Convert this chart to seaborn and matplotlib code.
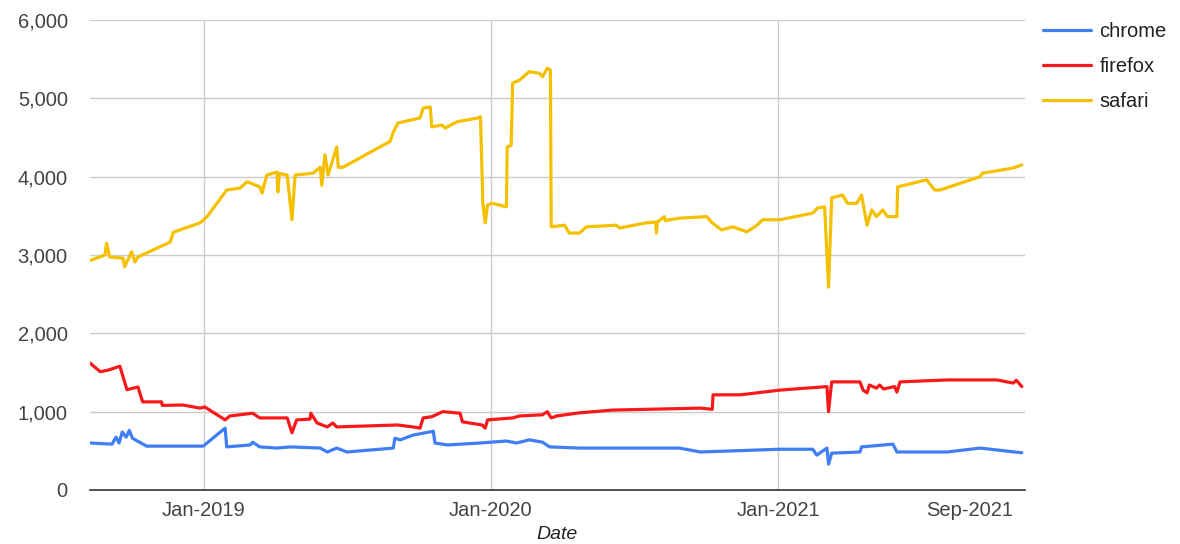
import pandas as pd
import matplotlib
matplotlib.use('Agg')
import matplotlib.pyplot as plt
import matplotlib.dates as mdates
from matplotlib.ticker import FuncFormatter
import seaborn as sns

# values
chrome_dates = ['2018-08-09', '2018-09-06', '2018-09-11', '2018-09-15', '2018-09-19', '2018-09-24',
                '2018-09-28', '2018-10-02', '2018-10-20', '2018-12-31', '2019-01-28', '2019-01-30',
                '2019-03-01', '2019-03-04', '2019-03-13', '2019-04-04', '2019-04-21', '2019-05-29',
                '2019-06-07', '2019-06-19', '2019-07-02', '2019-08-30', '2019-09-01', '2019-09-08',
                '2019-09-24', '2019-10-20', '2019-10-22', '2019-11-07', '2019-12-19', '2020-01-21',
                '2020-02-03', '2020-02-19', '2020-03-07', '2020-03-16', '2020-04-23', '2020-08-28',
                '2020-09-24', '2021-01-03', '2021-02-14', '2021-02-19', '2021-03-04', '2021-03-06',
                '2021-03-10', '2021-04-15', '2021-04-17', '2021-05-27', '2021-06-01', '2021-08-04',
                '2021-09-15', '2021-11-07']
chrome_vals = [600, 585, 675, 600, 740, 675,
               760, 660, 560, 560, 790, 550,
               575, 610, 550, 535, 550, 535,
               485, 535, 485, 535, 660, 640,
               700, 750, 600, 575, 600, 625,
               600, 640, 610, 550, 535, 535,
               485, 520, 520, 445, 535, 330,
               470, 485, 550, 585, 485, 485,
               535, 475]

firefox_dates = ['2018-08-09', '2018-08-22', '2018-09-01', '2018-09-16', '2018-09-25', '2018-10-09',
                 '2018-10-15', '2018-11-08', '2018-11-09', '2018-12-05', '2018-12-27', '2019-01-02',
                 '2019-01-28', '2019-02-03', '2019-03-04', '2019-03-13', '2019-04-17', '2019-04-23',
                 '2019-04-29', '2019-05-16', '2019-05-17', '2019-05-25', '2019-06-07', '2019-06-14',
                 '2019-06-19', '2019-09-04', '2019-09-24', '2019-10-03', '2019-10-07', '2019-10-18',
                 '2019-11-01', '2019-11-23', '2019-11-26', '2019-12-21', '2019-12-25', '2019-12-28',
                 '2020-01-29', '2020-02-07', '2020-03-07', '2020-03-13', '2020-03-18', '2020-03-25',
                 '2020-04-23', '2020-06-04', '2020-09-24', '2020-10-09', '2020-10-10', '2020-11-14',
                 '2021-01-03', '2021-03-04', '2021-03-06', '2021-03-10', '2021-04-15', '2021-04-19',
                 '2021-04-24', '2021-04-27', '2021-05-06', '2021-05-10', '2021-05-15', '2021-05-29',
                 '2021-06-01', '2021-06-05', '2021-08-04', '2021-10-06', '2021-10-27', '2021-10-31',
                 '2021-11-07']
firefox_vals = [1620, 1510, 1530, 1580, 1280, 1315,
                1125, 1125, 1080, 1085, 1045, 1060,
                895, 945, 980, 920, 920, 730,
                895, 905, 980, 855, 805, 855,
                805, 830, 805, 790, 920, 935,
                1000, 980, 870, 830, 790, 895,
                920, 945, 960, 1000, 920, 945,
                985, 1020, 1045, 1030, 1215, 1215,
                1275, 1320, 1000, 1380, 1380, 1275,
                1240, 1340, 1300, 1340, 1290, 1320,
                1250, 1380, 1405, 1405, 1365, 1400,
                1320]

safari_dates = ['2018-08-09', '2018-08-28', '2018-08-30', '2018-09-03', '2018-09-20', '2018-09-22',
                '2018-10-01', '2018-10-05', '2018-10-09', '2018-11-19', '2018-11-23', '2018-12-27',
                '2019-01-05', '2019-01-30', '2019-02-16', '2019-02-25', '2019-03-13', '2019-03-16',
                '2019-03-22', '2019-04-04', '2019-04-05', '2019-04-07', '2019-04-17', '2019-04-23',
                '2019-04-27', '2019-05-20', '2019-05-29', '2019-05-31', '2019-06-04', '2019-06-08',
                '2019-06-19', '2019-06-21', '2019-06-27', '2019-08-13', '2019-08-26', '2019-08-30',
                '2019-09-05', '2019-10-03', '2019-10-07', '2019-10-16', '2019-10-18', '2019-10-31',
                '2019-11-04', '2019-11-19', '2019-12-16', '2019-12-19', '2019-12-22', '2019-12-25',
                '2019-12-28', '2020-01-03', '2020-01-21', '2020-01-22', '2020-01-27', '2020-01-29',
                '2020-02-07', '2020-02-19', '2020-03-03', '2020-03-07', '2020-03-13', '2020-03-17',
                '2020-03-18', '2020-04-04', '2020-04-10', '2020-04-23', '2020-05-02', '2020-06-09',
                '2020-06-13', '2020-07-17', '2020-07-29', '2020-07-30', '2020-07-31', '2020-08-09',
                '2020-08-10', '2020-08-28', '2020-10-02', '2020-10-09', '2020-10-21', '2020-11-04',
                '2020-11-22', '2020-12-05', '2020-12-12', '2021-01-03', '2021-02-14', '2021-02-20',
                '2021-03-01', '2021-03-06', '2021-03-10', '2021-03-24', '2021-03-30', '2021-04-11',
                '2021-04-17', '2021-04-24', '2021-04-30', '2021-05-06', '2021-05-14', '2021-05-20',
                '2021-06-01', '2021-06-02', '2021-07-09', '2021-07-19', '2021-07-26', '2021-09-15',
                '2021-09-18', '2021-10-27', '2021-11-07']
safari_vals = [2930, 3000, 3150, 2975, 2960, 2850,
               3040, 2910, 2975, 3165, 3290, 3410,
               3490, 3830, 3855, 3935, 3870, 3790,
               4020, 4060, 3805, 4040, 4020, 3450,
               4020, 4045, 4120, 3890, 4280, 4020,
               4380, 4120, 4120, 4380, 4450, 4570,
               4685, 4750, 4875, 4890, 4635, 4660,
               4620, 4700, 4750, 4765, 3660, 3410,
               3640, 3660, 3615, 4380, 4400, 5195,
               5235, 5340, 5320, 5275, 5385, 5360,
               3360, 3380, 3280, 3280, 3360, 3380,
               3345, 3410, 3420, 3280, 3420, 3490,
               3440, 3470, 3490, 3410, 3320, 3360,
               3295, 3380, 3450, 3450, 3535, 3600,
               3615, 2590, 3730, 3765, 3660, 3660,
               3765, 3380, 3575, 3490, 3575, 3490,
               3490, 3870, 3960, 3830, 3830, 4000,
               4045, 4110, 4150]

browsers = ['chrome', 'firefox', 'safari']
colors = ['#3f7ef4', '#f8191b', '#f5c000']
tick_dates = ['2019-01-01', '2020-01-01', '2021-01-01', '2021-09-01']

frames = []
for name, d, v in [('chrome', chrome_dates, chrome_vals),
                   ('firefox', firefox_dates, firefox_vals),
                   ('safari', safari_dates, safari_vals)]:
    frames.append(pd.DataFrame({'Date': pd.to_datetime(d), 'value': v, 'browser': name}))
df = pd.concat(frames, ignore_index=True)

sns.set_style('white')
plt.rcParams['font.family'] = ['Liberation Sans', 'DejaVu Sans']

fig = plt.figure(figsize=(11.8, 5.44), dpi=100)
ax = fig.add_axes([0.0763, 0.0993, 0.7923, 0.8639])

sns.lineplot(data=df, x='Date', y='value', hue='browser', hue_order=browsers,
             palette=dict(zip(browsers, colors)), estimator=None, sort=True,
             linewidth=2.3, ax=ax)

ax.set_xlim(pd.Timestamp('2018-08-09'), pd.Timestamp('2021-11-11'))
ax.set_ylim(0, 6000)
ax.set_yticks(range(0, 6001, 1000))
ax.yaxis.set_major_formatter(FuncFormatter(lambda v, p: f'{int(v):,}'))
ax.set_xticks(pd.to_datetime(tick_dates))
ax.xaxis.set_major_formatter(mdates.DateFormatter('%b-%Y'))

ax.grid(True, color='#cccccc', linewidth=1.0)
ax.xaxis.get_gridlines()[-1].set_visible(False)
ax.set_axisbelow(True)
for s in ['top', 'right', 'left']:
    ax.spines[s].set_visible(False)
ax.spines['bottom'].set_color('#333333')
ax.spines['bottom'].set_linewidth(1.2)
ax.tick_params(axis='both', length=0, labelsize=14.5, labelcolor='#444444')
ax.tick_params(axis='y', pad=16)
ax.tick_params(axis='x', pad=8)

ax.set_ylabel('')
ax.set_xlabel('Date', fontsize=14, style='italic', color='#222222', labelpad=4)

ax.legend(loc='upper left', bbox_to_anchor=(1.0, 1.035), frameon=False, fontsize=14.5,
          handlelength=2.4, handletextpad=0.4, labelspacing=0.8, labelcolor='#222222')

fig.savefig('out.png', dpi=100, facecolor='white')
